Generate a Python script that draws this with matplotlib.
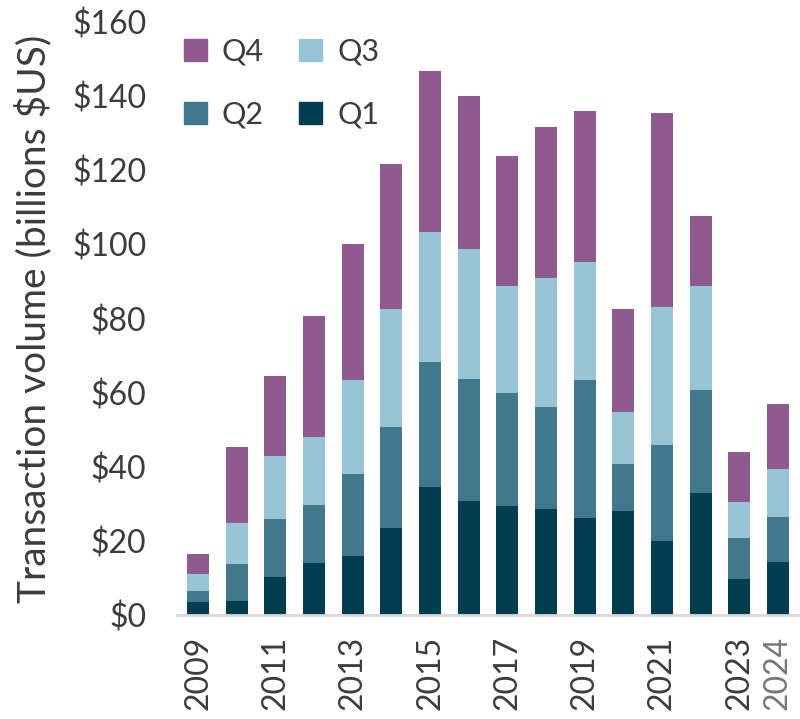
import numpy as np
import matplotlib.pyplot as plt
from matplotlib.patches import Patch

years = [str(y) for y in range(2009, 2025)]
q1 = [3.5, 3.7, 10.3, 14.0, 15.9, 23.6, 34.6, 30.9, 29.3, 28.6, 26.3, 28.2, 20.0, 32.9, 9.7, 14.3]
q2 = [2.9, 10.2, 15.7, 15.8, 22.1, 27.2, 33.7, 32.7, 30.6, 27.5, 37.0, 12.5, 26.0, 27.8, 11.0, 12.1]
q3 = [4.8, 10.8, 16.9, 18.2, 25.4, 31.7, 35.0, 35.2, 29.0, 34.7, 32.0, 14.0, 37.1, 28.0, 9.7, 13.0]
q4 = [5.3, 20.7, 21.7, 32.8, 36.8, 39.1, 43.5, 41.3, 35.0, 41.0, 40.8, 27.9, 52.4, 19.0, 13.5, 17.5]
shown_years = ['2009', '2011', '2013', '2015', '2017', '2019', '2021', '2023', '2024']

colors = {'Q1': '#023d50', 'Q2': '#41788c', 'Q3': '#97c5d5', 'Q4': '#8e5a8f'}
txt = '#3c3c3c'
plt.rcParams['font.family'] = ['Lato', 'DejaVu Sans']

fig = plt.figure(figsize=(8, 7.19), dpi=100)
ax = fig.add_axes([0.221, 0.1446, 0.779, 0.8248])

x = np.arange(len(years))
w = 0.57
bottom = np.zeros(len(years))
for name, vals in [('Q1', q1), ('Q2', q2), ('Q3', q3), ('Q4', q4)]:
    ax.bar(x, vals, w, bottom=bottom, color=colors[name], edgecolor='none')
    bottom += np.array(vals)

ax.set_xlim(-0.55, len(years) - 0.43)
ax.set_ylim(0, 160)
ax.set_yticks(range(0, 161, 20))
ax.set_yticklabels(['$%d' % v for v in range(0, 161, 20)], fontsize=23, color=txt)
ax.set_xticks([years.index(y) for y in shown_years])
ax.set_xticklabels(shown_years, rotation=90, fontsize=23, color=txt)
ax.get_xticklabels()[-1].set_color('#777777')
ax.tick_params(axis='y', length=0, pad=22)
ax.tick_params(axis='x', length=0, pad=15)
for s in ['top', 'right', 'left']:
    ax.spines[s].set_visible(False)
ax.spines['bottom'].set_color('#d9d9d9')
ax.spines['bottom'].set_linewidth(2)
ax.set_ylabel('Transaction volume (billions $US)', fontsize=28, color=txt, labelpad=14)

handles = [Patch(color=colors['Q4'], label='Q4'), Patch(color=colors['Q2'], label='Q2'),
           Patch(color=colors['Q3'], label='Q3'), Patch(color=colors['Q1'], label='Q1')]
leg = ax.legend(handles=handles, ncol=2, loc='upper left', bbox_to_anchor=(-0.033, 1.02),
                frameon=False, fontsize=22, handlelength=0.75, handleheight=0.75,
                handletextpad=0.5, columnspacing=1.15, labelspacing=1.15)
for t in leg.get_texts():
    t.set_color(txt)

fig.savefig('out.png', dpi=100)
